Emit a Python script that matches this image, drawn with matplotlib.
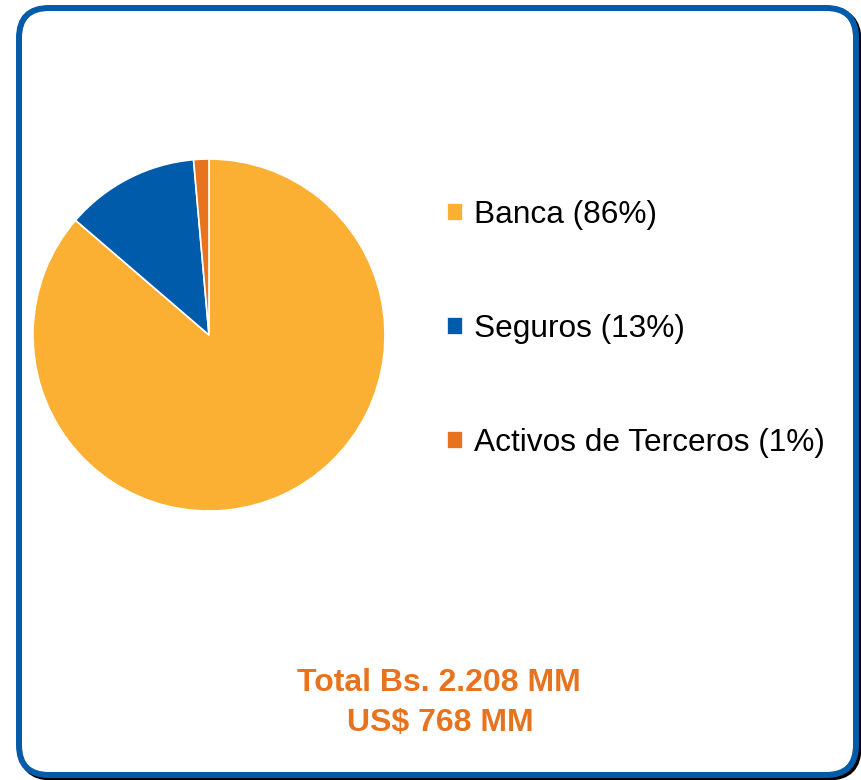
import matplotlib.pyplot as plt
from matplotlib.patches import FancyBboxPatch

# datos
categorias = ["Banca (86%)", "Seguros (13%)", "Activos de Terceros (1%)"]
valores = [86.3, 12.3, 1.4]
colores = ["#FBB034", "#005BAA", "#E8731F"]
linea1 = "Total Bs. 2.208 MM"
linea2 = "US$ 768 MM"

plt.rcParams['font.family'] = ['Liberation Sans', 'DejaVu Sans']

W, H = 862, 780
fig = plt.figure(figsize=(W / 100, H / 100), dpi=100)

# marco redondeado con sombra
bg = fig.add_axes([0, 0, 1, 1], zorder=0)
bg.set_xlim(0, W)
bg.set_ylim(H, 0)
bg.axis("off")
sombra = FancyBboxPatch((21.5, 10.5), 837, 767, boxstyle="round,pad=0,rounding_size=30",
                        facecolor="black", edgecolor="black", linewidth=4.3)
bg.add_patch(sombra)
marco = FancyBboxPatch((19, 8), 837, 767, boxstyle="round,pad=0,rounding_size=30",
                       facecolor="white", edgecolor="#005BAA", linewidth=4.3)
bg.add_patch(marco)

# torta
r = 176
cx, cy = 209, 335
ax = fig.add_axes([(cx - r) / W, (H - cy - r) / H, 2 * r / W, 2 * r / H], zorder=1)
ax.set_facecolor("none")
wedges, _ = ax.pie(valores, colors=colores, startangle=90, counterclock=False,
                   wedgeprops=dict(edgecolor="white", linewidth=1.2))
ax.set_xlim(-1, 1)
ax.set_ylim(-1, 1)
ax.set_aspect("equal")

fig.legend(wedges, categorias, loc="center left",
           bbox_to_anchor=(447 / W, (H - 329) / H), frameon=False,
           fontsize=22.8, borderpad=0, borderaxespad=0, handlelength=0.5,
           handleheight=0.5, handletextpad=0.35, labelspacing=2.65)

naranja = "#E8731F"
fig.text(439 / W, 1 - 683 / H, linea1, ha="center", va="center",
         fontsize=23, fontweight="bold", color=naranja)
fig.text(440 / W, 1 - 723 / H, linea2, ha="center", va="center",
         fontsize=23, fontweight="bold", color=naranja)

plt.savefig("out.png", dpi=100)
